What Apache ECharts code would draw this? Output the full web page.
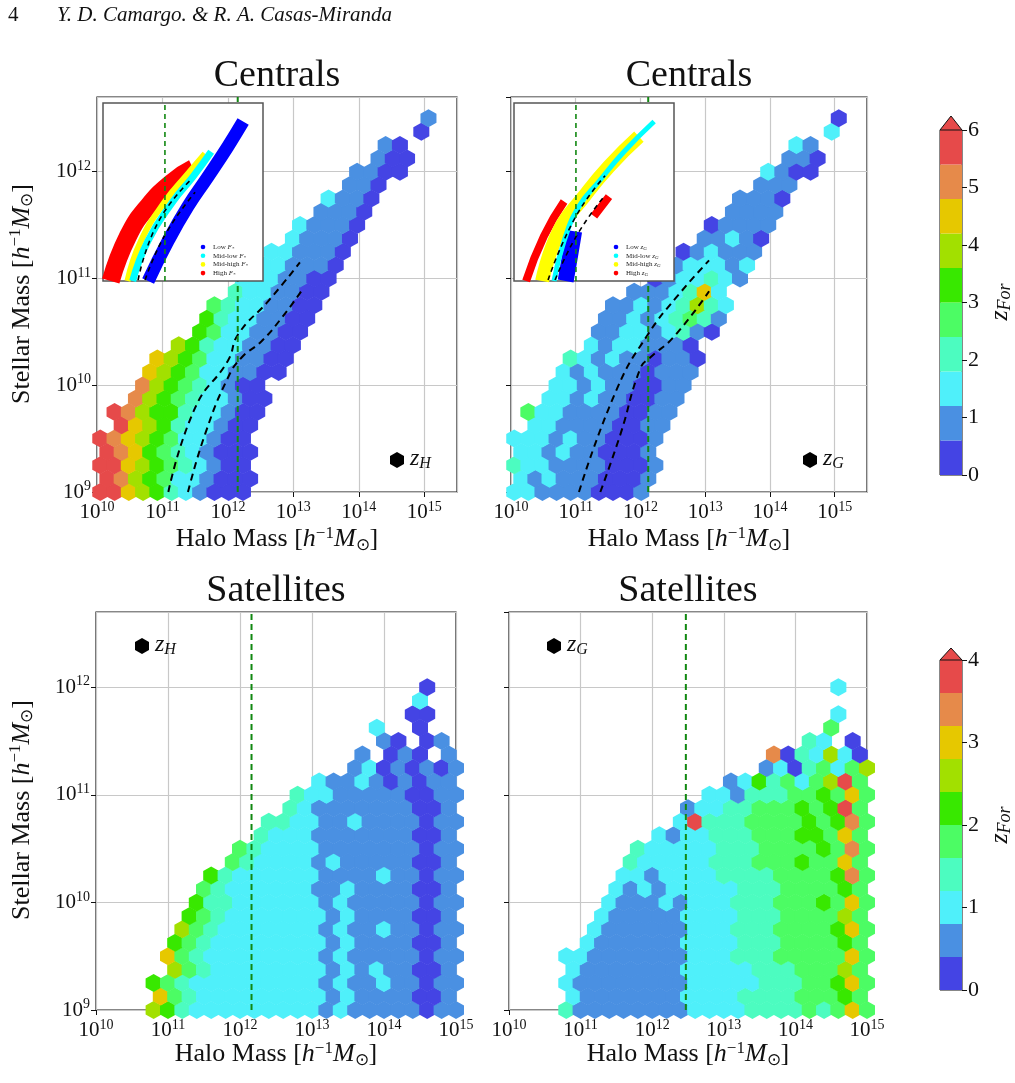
<!DOCTYPE html>
<html>
<head>
<meta charset="utf-8">
<script src="https://cdn.jsdelivr.net/npm/echarts@6/dist/echarts.min.js"></script>
<style>body{margin:0;background:#fff}#c{width:1015px;height:1083px}</style>
</head>
<body>
<div id="c"></div>
<script>
// colour bins of the z_For colourbar (10 bins)
var PAL = ['#4444e4','#4a90e2','#4ff0fa','#4cfcc0','#4cfc64','#38e800','#a2e000','#e6c800','#e68a4a','#e64a4a'];

// hexbin cells, one string per row (row r: log Ms = 9 + 0.125 r, odd rows shifted half a cell)
// char = colour bin index, '.' = empty
var cenH = [
  "99765321000",
  "98654221000",
  "99765432100",
  "98754321000",
  "98765422100",
  ".9765322100",
  ".98655322100",
  "..8654322100",
  "...865432100",
  "...7654221100",
  "....7654221100",
  ".....653221100",
  ".......54221100",
  ".......53221100",
  "........43221100",
  ".........3221100",
  "..........2221100",
  "...........221110",
  "............221110",
  ".............21110",
  "..............21110",
  "...............1110",
  "................2110",
  ".................110",
  "..................1100",
  "...................100",
  "....................10",
  "......................0",
  ".......................1"
];
var cenG = [
  "2211110001",
  "2121110001",
  "32211110001",
  "2212110001",
  "22212110001",
  ".2211110011",
  ".42211110011",
  "..2212110011",
  "...2212110011",
  "...2121110111",
  "....3212110110",
  ".....21221110",
  "......112212310",
  "......112123431",
  ".......112123632",
  "........1112372",
  "..........0122321",
  "...........122212",
  "............012111",
  ".............11210",
  "..............01111",
  "...............1111",
  "................1110",
  ".................111",
  "..................2100",
  "...................110",
  "....................21",
  "......................2",
  ".......................0"
];
var satH = [
  "....6532222222221211111011",
  "....743222222222121111001",
  "....5432222222221211211011",
  ".....64322222222121211001",
  ".....743222222221211111011",
  ".....54322222222121111001",
  "......64322222221211211011",
  "......5432222222121111001",
  ".......5332222221211111011",
  ".......432222221121111001",
  "........532222221111211011",
  ".........4322221211111001",
  "..........4322221111111011",
  "...........32221111111001",
  "............33221121111011",
  ".............321111111001",
  "..............322111110011",
  "...............2112101011",
  "..................12010101",
  "..................1.010.1",
  "....................10.01",
  "...................2..0",
  "......................00",
  "......................2",
  ".......................0"
];
var satG = [
  "....3111111112222333343474",
  "....2111111122223333444544",
  "....2111111112222233344574",
  "....2111111122222333444644",
  "....2211111112223334444474",
  ".....21111112222333444454",
  "......21111112223334444574",
  "......2111112222333444464",
  ".......2111212223334445474",
  ".......212122222333444454",
  "........221222233334444584",
  "........32222233344454474",
  ".........32222233344445484",
  "..........212233344455474",
  "............29333444454584",
  "............1223344454594",
  "..............221333445474",
  "...............1253424694",
  "..................12034246",
  "..................8032620",
  ".....................32.0",
  "......................4",
  ".......................2",
  "",
  ".......................2"
];

// black dashed median relations [log Mh, log Ms]
var dashH1 = [[11.09,9.0],[11.50,9.79],[12.0,10.23],[12.16,10.48],[12.62,10.79],[13.10,11.15]];
var dashH2 = [[11.39,9.0],[11.65,9.54],[12.0,10.07],[12.21,10.26],[12.51,10.41],[12.82,10.63],[13.12,10.88]];
var dashG1 = [[11.05,9.0],[11.64,9.97],[12.12,10.48],[12.55,10.82],[13.06,11.17]];
var dashG2 = [[11.38,9.0],[11.69,9.54],[12.0,10.16],[12.15,10.26],[12.51,10.45],[13.06,10.88]];
// green dashed halo mass thresholds
var vlines = [12.15, 12.12, 12.16, 12.47];

// inset populations (band centre lines)
var insH = {
  blue:   [[11.55,9.3],[12.32,10.12],[13.09,10.83],[13.87,11.44],[14.64,12.06],[15.23,12.57]],
  cyan:   [[10.95,9.3],[11.54,10.12],[12.51,10.93],[13.29,11.44],[13.99,11.95]],
  yellow: [[10.75,9.3],[11.27,10.12],[12.2,10.93],[13.09,11.5],[13.75,11.91]],
  red:    [[10.1,9.3],[10.77,10.22],[11.54,10.83],[12.51,11.34],[13.29,11.61]],
  d1: [[11.16,9.32],[11.93,10.5],[13.25,11.4]],
  d2: [[11.43,9.32],[12.2,10.24],[13.37,11.12]],
  v: 12.2
};
var insG = {
  blue:   [[11.8,9.3],[11.97,9.81],[12.13,10.32]],
  cyan:   [[11.35,9.3],[11.74,10.12],[12.32,10.83],[13.09,11.34],[14.06,11.95],[15.23,12.57]],
  yellow: [[10.89,9.3],[11.54,10.32],[12.51,11.03],[13.48,11.65],[14.64,12.26]],
  red:    [[10.27,9.3],[10.96,10.22],[11.74,10.93],'-',[12.9,10.63],[13.48,11.03]],
  d1: [[11.12,9.32],[12.16,10.59],[13.33,11.46]],
  d2: [[11.39,9.32],[12.24,10.24],[13.33,11.06]],
  v: 12.2
};

var SERIF = 'Liberation Serif';
var HEX = 'path://M0,-1 L0.866,-0.5 L0.866,0.5 L0,1 L-0.866,0.5 L-0.866,-0.5 Z';

function hexData(rows, x0, dx) {
  var out = [];
  rows.forEach(function (s, r) {
    for (var i = 0; i < s.length; i++) {
      if (s[i] === '.') continue;
      out.push({value: [x0 + dx * i + (r % 2 ? dx / 2 : 0), 9 + 0.125 * r], itemStyle: {color: PAL[+s[i]], opacity: 1}});
    }
  });
  return out;
}

var panels = [
  {left: 97, top: 97, w: 360, h: 395, xmax: 15.5, rows: cenH, x0: 10.05, dx: 0.218, ylab: true, d: [dashH1, dashH2], inset: insH},
  {left: 511, top: 97, w: 356, h: 395, xmax: 15.5, rows: cenG, x0: 10.05, dx: 0.218, ylab: false, d: [dashG1, dashG2], inset: insG},
  {left: 96, top: 612, w: 360, h: 398, xmax: 15, rows: satH, x0: 10, dx: 0.2, ylab: true, d: []},
  {left: 509, top: 612, w: 358, h: 398, xmax: 15, rows: satG, x0: 10, dx: 0.2, ylab: false, d: []}
];

var grid = [], xAxis = [], yAxis = [], series = [];
var supRich = {s: {fontSize: 14, fontFamily: SERIF, padding: [0, 0, 11, 0], color: '#111'}};
function powLabel(v) { return '10{s|' + v + '}'; }

panels.forEach(function (p, k) {
  grid.push({left: p.left, top: p.top, width: p.w, height: p.h, show: true, borderColor: '#111', borderWidth: 1.2});
  xAxis.push({gridIndex: k, type: 'value', min: 10, max: p.xmax, interval: 1,
    axisLine: {show: false}, axisTick: {show: true, length: 5, lineStyle: {color: '#111'}},
    axisLabel: {formatter: powLabel, rich: supRich, fontSize: 21, fontFamily: SERIF, color: '#111', margin: 8, showMaxLabel: p.xmax === 15},
    splitLine: {show: true, lineStyle: {color: '#c8c8c8', width: 1.2}}});
  yAxis.push({gridIndex: k, type: 'value', min: 9, max: 12.7, interval: 1,
    axisLine: {show: false}, axisTick: {show: true, length: 5, lineStyle: {color: '#111'}},
    axisLabel: {show: p.ylab, formatter: powLabel, rich: supRich, fontSize: 21, fontFamily: SERIF, color: '#111', margin: 6, showMaxLabel: false},
    splitLine: {show: true, lineStyle: {color: '#c8c8c8', width: 1.2}}});
  series.push({type: 'scatter', xAxisIndex: k, yAxisIndex: k, symbol: HEX, symbolSize: [16, 18],
    data: hexData(p.rows, p.x0, p.dx), z: 2, silent: true});
  p.d.forEach(function (d) {
    series.push({type: 'line', xAxisIndex: k, yAxisIndex: k, data: d, smooth: true, symbol: 'none', z: 3,
      lineStyle: {color: '#000', width: 2, type: [7, 5]}});
  });
  series.push({type: 'line', xAxisIndex: k, yAxisIndex: k, data: [[vlines[k], 9], [vlines[k], 12.7]], symbol: 'none', z: 3,
    lineStyle: {color: '#118811', width: 2, type: [6, 4]}});
});

// insets
var insetBoxes = [{left: 103, top: 103}, {left: 514, top: 103}];
[0, 1].forEach(function (j) {
  var gi = grid.length, ins = panels[j].inset, b = insetBoxes[j];
  grid.push({left: b.left, top: b.top, width: 160, height: 178, show: true, backgroundColor: '#fff', borderColor: '#555', borderWidth: 1.5, z: 5});
  xAxis.push({gridIndex: gi, type: 'value', min: 9.8, max: 16, axisLine: {show: false}, axisTick: {show: false}, axisLabel: {show: false}, splitLine: {show: false}, z: 5});
  yAxis.push({gridIndex: gi, type: 'value', min: 9.3, max: 12.95, axisLine: {show: false}, axisTick: {show: false}, axisLabel: {show: false}, splitLine: {show: false}, z: 5});
  var bands = [['red', '#ff0000', 18], ['yellow', '#ffff00', 6], ['cyan', '#00ffff', 7], ['blue', '#0000ff', 13]];
  if (j === 1) bands = [['blue', '#0000ff', 16], ['red', '#ff0000', 8], ['yellow', '#ffff00', 14], ['cyan', '#00ffff', 5]];
  bands.forEach(function (bd) {
    series.push({type: 'line', xAxisIndex: gi, yAxisIndex: gi, data: ins[bd[0]], smooth: true, symbol: 'none', z: 6,
      lineStyle: {color: bd[1], width: bd[2], cap: 'butt', join: 'round'}});
  });
  [ins.d1, ins.d2].forEach(function (d) {
    series.push({type: 'line', xAxisIndex: gi, yAxisIndex: gi, data: d, smooth: true, symbol: 'none', z: 7,
      lineStyle: {color: '#000', width: 1.6, type: [5, 4]}});
  });
  series.push({type: 'line', xAxisIndex: gi, yAxisIndex: gi, data: [[ins.v, 9.3], [ins.v, 12.95]], symbol: 'none', z: 7,
    lineStyle: {color: '#118811', width: 1.6, type: [5, 4]}});
});

// colourbars
var cbs = [{top: 130, h: 345, max: 6}, {top: 660, h: 330, max: 4}];
cbs.forEach(function (cb) {
  var gi = grid.length;
  grid.push({left: 940, top: cb.top, width: 22, height: cb.h, show: true, borderColor: '#111', borderWidth: 1});
  xAxis.push({gridIndex: gi, type: 'category', data: [''], show: false});
  yAxis.push({gridIndex: gi, type: 'value', min: 0, max: cb.max, interval: 1, position: 'right',
    axisLine: {show: false}, axisTick: {show: true, inside: false, length: 5, lineStyle: {color: '#111'}},
    splitLine: {show: false}, axisLabel: {fontSize: 22, fontFamily: SERIF, color: '#111', margin: 6}});
  PAL.forEach(function (c) {
    series.push({type: 'bar', xAxisIndex: gi, yAxisIndex: gi, stack: 'cb' + gi, barWidth: '100%',
      data: [cb.max / PAL.length], itemStyle: {color: c}, silent: true});
  });
});

function txt(x, y, text, size, extra) {
  var o = {type: 'text', left: x, top: y, z: 20, style: {text: text, fontSize: size, fontFamily: SERIF, fill: '#111'}};
  for (var k in extra) o.style[k] = extra[k];
  return o;
}
var nameRich = {
  i: {fontSize: 26, fontFamily: SERIF, fontStyle: 'italic'},
  s: {fontSize: 17, fontFamily: SERIF, padding: [0, 0, 12, 0]},
  b: {fontSize: 17, fontFamily: SERIF, padding: [12, 0, 0, 0]}
};
var xName = 'Halo Mass [{i|h}{s|−1}{i|M}{b|⊙}]';
var yName = 'Stellar Mass [{i|h}{s|−1}{i|M}{b|⊙}]';
var graphic = [
  txt(8, 5, '4', 21, {}),
  txt(57, 5, 'Y. D. Camargo. & R. A. Casas-Miranda', 21, {fontStyle: 'italic'})
];
[[277, 57, 'Centrals'], [689, 57, 'Centrals'], [276, 572, 'Satellites'], [688, 572, 'Satellites']].forEach(function (t) {
  graphic.push({type: 'text', x: t[0], y: t[1], z: 20, style: {text: t[2], fontSize: 38, fontFamily: SERIF, fill: '#111', align: 'center'}});
});
[[277, 525], [689, 525], [276, 1040], [688, 1040]].forEach(function (t) {
  graphic.push({type: 'text', x: t[0], y: t[1], z: 20, style: {text: xName, rich: nameRich, fontSize: 26, fontFamily: SERIF, fill: '#111', align: 'center'}});
});
[[22, 294], [22, 810]].forEach(function (t) {
  graphic.push({type: 'text', x: t[0], y: t[1], rotation: Math.PI / 2, z: 20, style: {text: yName, rich: nameRich, fontSize: 26, fontFamily: SERIF, fill: '#111', align: 'center', verticalAlign: 'middle'}});
});
[[1000, 302], [1000, 825]].forEach(function (t) {
  graphic.push({type: 'text', x: t[0], y: t[1], rotation: Math.PI / 2, z: 20, style: {text: '{i|z}{b|For}', rich: {i: {fontSize: 26, fontFamily: SERIF, fontStyle: 'italic'}, b: {fontSize: 18, fontFamily: SERIF, fontStyle: 'italic', padding: [10, 0, 0, 0]}}, align: 'center', verticalAlign: 'middle', fill: '#111'}});
});
// colourbar extension triangles
[[130, 116], [660, 648]].forEach(function (t) {
  graphic.push({type: 'polygon', z: 20, shape: {points: [[940, t[0]], [962, t[0]], [951, t[1]]]}, style: {fill: PAL[9], stroke: '#111', lineWidth: 1}});
});
// hexagon key labels
[[397, 460, 'H'], [810, 460, 'G'], [142, 646, 'H'], [554, 646, 'G']].forEach(function (t) {
  graphic.push({type: 'polygon', z: 20, shape: {points: [[t[0], t[1] - 8], [t[0] + 7, t[1] - 4], [t[0] + 7, t[1] + 4], [t[0], t[1] + 8], [t[0] - 7, t[1] + 4], [t[0] - 7, t[1] - 4]]}, style: {fill: '#000'}});
  graphic.push({type: 'text', x: t[0] + 13, y: t[1] - 14, z: 20, style: {text: '{i|z}{b|' + t[2] + '}', rich: {i: {fontSize: 24, fontFamily: SERIF, fontStyle: 'italic'}, b: {fontSize: 16, fontFamily: SERIF, fontStyle: 'italic', padding: [10, 0, 0, 0]}}, fill: '#111'}});
});
// inset legends
var legLab = [['Low', '#0000ff'], ['Mid-low', '#00ffff'], ['Mid-high', '#ffff00'], ['High', '#ff0000']];
[[203, 'F', '*'], [616, 'z', 'G']].forEach(function (L) {
  legLab.forEach(function (e, i) {
    var y = 247 + i * 8.7;
    graphic.push({type: 'circle', z: 30, shape: {cx: L[0], cy: y, r: 2.3}, style: {fill: e[1]}});
    graphic.push({type: 'text', x: L[0] + 10, y: y - 4, z: 30, style: {text: e[0] + ' {i|' + L[1] + '}{b|' + L[2] + '}', fontSize: 7, fontFamily: SERIF, fill: '#222',
      rich: {i: {fontSize: 7, fontStyle: 'italic', fontFamily: SERIF}, b: {fontSize: 5, fontStyle: 'italic', fontFamily: SERIF, padding: [3, 0, 0, 0]}}}});
  });
});

var chart = echarts.init(document.getElementById('c'), null, {renderer: 'canvas'});
chart.setOption({animation: false, backgroundColor: '#fff', grid: grid, xAxis: xAxis, yAxis: yAxis, series: series, graphic: graphic});
</script>
</body>
</html>
